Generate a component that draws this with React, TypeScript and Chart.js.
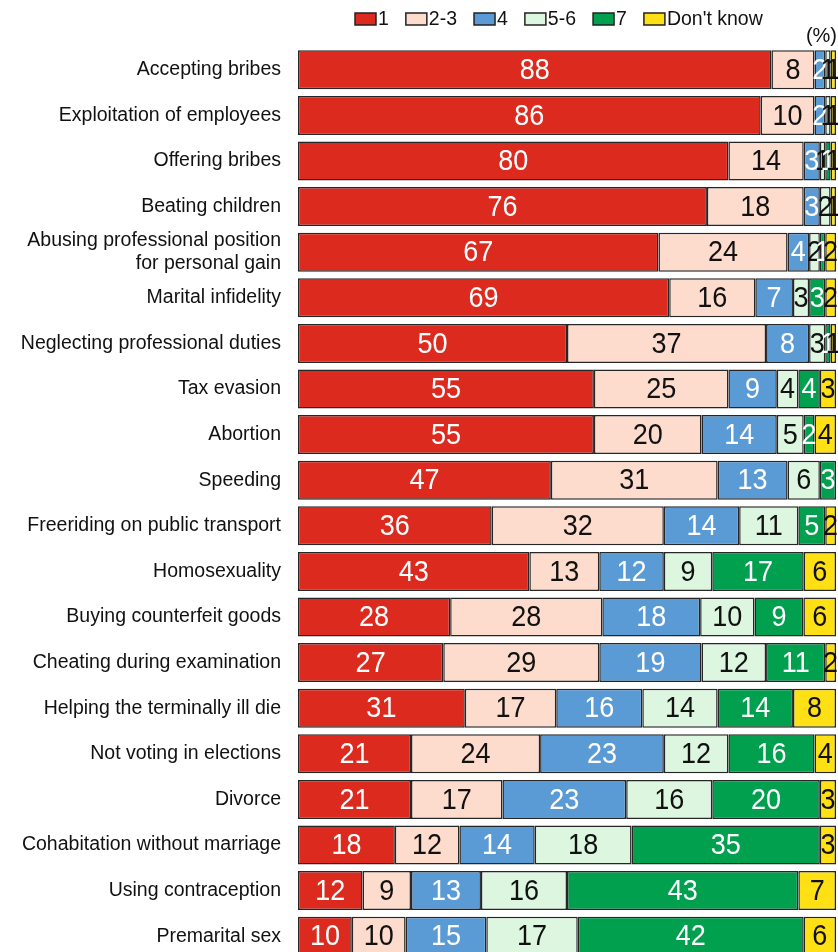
import React, { useEffect, useRef } from "react";
import { Chart, registerables } from "chart.js";

Chart.register(...registerables);

const categories: (string | string[])[] = [
  "Accepting bribes",
  "Exploitation of employees",
  "Offering bribes",
  "Beating children",
  ["Abusing professional position", "for personal gain"],
  "Marital infidelity",
  "Neglecting professional duties",
  "Tax evasion",
  "Abortion",
  "Speeding",
  "Freeriding on public transport",
  "Homosexuality",
  "Buying counterfeit goods",
  "Cheating during examination",
  "Helping the terminally ill die",
  "Not voting in elections",
  "Divorce",
  "Cohabitation without marriage",
  "Using contraception",
  "Premarital sex",
];

const seriesNames = ["1", "2-3", "4", "5-6", "7", "Don't know"];

const s1 = [88, 86, 80, 76, 67, 69, 50, 55, 55, 47, 36, 43, 28, 27, 31, 21, 21, 18, 12, 10];
const s23 = [8, 10, 14, 18, 24, 16, 37, 25, 20, 31, 32, 13, 28, 29, 17, 24, 17, 12, 9, 10];
const s4 = [2, 2, 3, 3, 4, 7, 8, 9, 14, 13, 14, 12, 18, 19, 16, 23, 23, 14, 13, 15];
const s56 = [1, 1, 1, 2, 2, 3, 3, 4, 5, 6, 11, 9, 10, 12, 14, 12, 16, 18, 16, 17];
const s7 = [0, 0, 1, 0, 1, 3, 1, 4, 2, 3, 5, 17, 9, 11, 14, 16, 20, 35, 43, 42];
const sDK = [1, 1, 1, 1, 2, 2, 1, 3, 4, 0, 2, 6, 6, 2, 8, 4, 3, 3, 7, 6];

const series = [s1, s23, s4, s56, s7, sDK];
const colors = ["#DC2A1F", "#FDDCCE", "#5B9BD5", "#DDF6E0", "#00A04F", "#FFE015"];
const labelColors = ["#FFFFFF", "#111111", "#FFFFFF", "#111111", "#FFFFFF", "#111111"];

const FONT = "'Liberation Sans', Arial, sans-serif";

const legendPlugin = {
  id: "customLegend",
  afterDraw(chart: any) {
    const ctx = chart.ctx;
    ctx.save();
    ctx.font = `19.5px ${FONT}`;
    ctx.textBaseline = "middle";
    ctx.textAlign = "left";
    let x = 355;
    const y = 13;
    seriesNames.forEach((name, i) => {
      ctx.fillStyle = colors[i];
      ctx.fillRect(x, y, 21, 12);
      ctx.strokeStyle = "#222";
      ctx.lineWidth = 1.5;
      ctx.strokeRect(x, y, 21, 12);
      ctx.fillStyle = "#111";
      ctx.fillText(name, x + 23, y + 6.5);
      x += 23 + ctx.measureText(name).width + 17;
    });
    ctx.textAlign = "right";
    ctx.font = `20px ${FONT}`;
    ctx.fillText("(%)", 837, 36);
    ctx.restore();
  },
};

const valueLabelPlugin = {
  id: "valueLabels",
  afterDatasetsDraw(chart: any) {
    const ctx = chart.ctx;
    const sx = 0.9;
    chart.data.datasets.forEach((ds: any, di: number) => {
      const meta = chart.getDatasetMeta(di);
      meta.data.forEach((el: any, i: number) => {
        const v = series[di][i];
        if (!v) return;
        const cx = (el.x + el.base) / 2;
        ctx.save();
        ctx.font = `30px ${FONT}`;
        ctx.textAlign = "center";
        ctx.textBaseline = "middle";
        ctx.translate(cx, el.y + 1);
        ctx.scale(sx, 1);
        ctx.fillStyle = labelColors[di];
        ctx.fillText(String(v), 0, 0);
        ctx.restore();
      });
    });
  },
};

export default function App() {
  const ref = useRef<HTMLCanvasElement>(null);

  useEffect(() => {
    if (!ref.current) return;
    const totals = categories.map((_, i) => series.reduce((a, s) => a + s[i], 0));
    const chart = new Chart(ref.current, {
      type: "bar",
      data: {
        labels: categories,
        datasets: series.map((s, di) => ({
          label: seriesNames[di],
          data: s.map((v, i) => (v / totals[i]) * 100),
          backgroundColor: colors[di],
          borderColor: "#262626",
          borderWidth: 1.5,
          borderSkipped: false,
          barPercentage: 0.855,
          categoryPercentage: 1,
        })),
      },
      options: {
        indexAxis: "y",
        responsive: false,
        animation: false,
        devicePixelRatio: 1,
        layout: { padding: { top: 47, bottom: 1, left: 0, right: 2 } },
        plugins: {
          legend: { display: false },
          tooltip: { enabled: false },
          title: { display: false },
        },
        scales: {
          x: {
            stacked: true,
            min: 0,
            max: 100,
            display: false,
          },
          y: {
            stacked: true,
            grid: { display: false, drawTicks: false },
            border: { display: false },
            afterFit: (scale: any) => {
              scale.width = 298;
              scale.paddingTop = 0;
              scale.paddingBottom = 0;
            },
            ticks: {
              padding: 17,
              color: "#111",
              autoSkip: false,
              font: { family: FONT, size: 19.5, lineHeight: 1.15 },
            },
          },
        },
      },
      plugins: [legendPlugin, valueLabelPlugin],
    });
    return () => chart.destroy();
  }, []);

  return (
    <div style={{ position: "absolute", left: 0, top: 0, width: 838, height: 960, background: "#fff" }}>
      <canvas ref={ref} width={838} height={960} style={{ display: "block" }} />
    </div>
  );
}
